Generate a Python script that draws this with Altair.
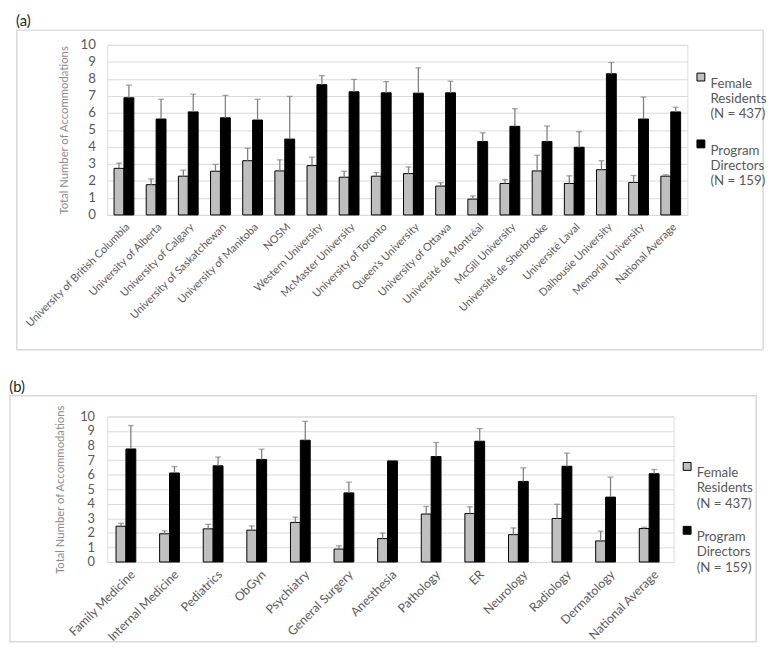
import altair as alt
import pandas as pd

SERIES = ["Female Residents (N = 437)", "Program Directors (N = 159)"]
COLORS = ["#bfbfbf", "#000000"]

# Panel (a): universities
uni_names = [
    "University of British Columbia", "University of Alberta", "University of Calgary",
    "University of Saskatchewan", "University of Manitoba", "NOSM", "Western University",
    "McMaster University", "University of Toronto", "Queen's University", "University of Ottawa",
    "Université de Montréal", "McGill University", "Université de Sherbrooke", "Université Laval",
    "Dalhousie University", "Memorial University", "National Average",
]
uni_fr = [2.74, 1.78, 2.28, 2.57, 3.19, 2.59, 2.90, 2.22, 2.28, 2.43, 1.70, 0.93, 1.85, 2.59, 1.85, 2.66, 1.91, 2.28]
uni_fr_top = [3.05, 2.12, 2.63, 2.97, 3.92, 3.24, 3.40, 2.57, 2.49, 2.82, 1.89, 1.12, 2.08, 3.51, 2.30, 3.19, 2.32, 2.36]
uni_pd = [6.89, 5.64, 6.06, 5.71, 5.58, 4.46, 7.66, 7.24, 7.18, 7.16, 7.18, 4.32, 5.21, 4.32, 3.98, 8.30, 5.64, 6.06]
uni_pd_top = [7.63, 6.80, 7.10, 7.03, 6.80, 6.97, 8.19, 7.97, 7.84, 8.65, 7.86, 4.83, 6.25, 5.23, 4.90, 8.96, 6.93, 6.33]

# Panel (b): specialties
spec_names = [
    "Family Medicine", "Internal Medicine", "Pediatrics", "ObGyn", "Psychiatry",
    "General Surgery", "Anesthesia", "Pathology", "ER", "Neurology", "Radiology",
    "Dermatology", "National Average",
]
spec_fr = [2.46, 1.94, 2.28, 2.19, 2.72, 0.89, 1.61, 3.30, 3.33, 1.88, 2.99, 1.45, 2.30]
spec_fr_top = [2.66, 2.14, 2.59, 2.48, 3.08, 1.12, 1.99, 3.82, 3.79, 2.34, 3.97, 2.12, 2.39]
spec_pd = [7.77, 6.12, 6.61, 7.05, 8.37, 4.75, 6.95, 7.25, 8.30, 5.54, 6.58, 4.46, 6.07]
spec_pd_top = [9.38, 6.56, 7.21, 7.75, 9.67, 5.49, None, 8.21, 9.17, 6.47, 7.48, 5.83, 6.36]

FONT = "Lato"


def make_df(names, fr, fr_top, pdv, pd_top):
    rows = []
    for i, n in enumerate(names):
        rows.append({"cat": n, "series": SERIES[0], "value": fr[i], "top": fr_top[i]})
        rows.append({"cat": n, "series": SERIES[1], "value": pdv[i], "top": pd_top[i]})
    return pd.DataFrame(rows)


LABEL_EXPR = ("datum.label == '" + SERIES[0] + "' ? ['Female', 'Residents', '(N = 437)']"
              " : ['Program', 'Directors', '(N = 159)']")


def panel(names, df, title, w, h, pad_in, pad_out, xfs, yfs, frame, legend_y, row_pad,
          ylab_pad, ytitle_pad):
    x = alt.X("cat:N", sort=names, title=None,
              scale=alt.Scale(paddingInner=pad_in, paddingOuter=pad_out),
              axis=alt.Axis(labelAngle=-45, labelColor="#595959", labelFontSize=xfs,
                            ticks=False, domainColor="#d9d9d9", labelPadding=6,
                            labelLimit=300, labelFont=FONT))
    xo = alt.XOffset("series:N", sort=SERIES, scale=alt.Scale(paddingInner=0))
    y = alt.Y("value:Q", scale=alt.Scale(domain=[0, 10], nice=False),
              axis=alt.Axis(values=list(range(11)), tickCount=11, labelOverlap=False,
                            gridColor="#d9d9d9", domain=False,
                            ticks=False, labelColor="#595959", labelFontSize=yfs,
                            labelPadding=ylab_pad, labelFont=FONT,
                            title="Total Number of Accommodations", titleColor="#8c8c8c",
                            titleFontSize=11.5, titleFontWeight="normal",
                            titlePadding=ytitle_pad, titleFont=FONT))
    base = alt.Chart(df)
    bars = base.mark_bar(stroke="#000000", strokeWidth=1).encode(
        x=x, xOffset=xo, y=y,
        color=alt.Color("series:N", sort=SERIES,
                        scale=alt.Scale(domain=SERIES, range=COLORS),
                        legend=alt.Legend(title=None, orient="none", legendX=w + 7,
                                          legendY=legend_y, symbolType="square",
                                          symbolSize=64, symbolStrokeColor="#000000",
                                          symbolStrokeWidth=1, labelFontSize=13.5,
                                          labelColor="#595959", labelFont=FONT,
                                          labelExpr=LABEL_EXPR, rowPadding=row_pad,
                                          labelBaseline="top", labelOffset=3,
                                          labelLimit=0)),
    )
    errdf = base.transform_filter("isValid(datum.top)")
    rules = errdf.mark_rule(color="#7f7f7f", strokeWidth=1.3).encode(
        x=x, xOffset=xo, y="value:Q", y2="top:Q")
    caps = errdf.mark_tick(color="#7f7f7f", thickness=1.3, size=6).encode(
        x=x, xOffset=xo, y="top:Q")
    box = alt.Chart(pd.DataFrame({"k": [0]})).mark_rect(
        fillOpacity=0, stroke="#d9d9d9", strokeWidth=1.5).encode(
        x=alt.value(frame[0]), x2=alt.value(frame[1]),
        y=alt.value(frame[2]), y2=alt.value(frame[3]))
    return alt.layer(box, bars, rules, caps).properties(
        width=w, height=h,
        title=alt.TitleParams(title, anchor="start", fontSize=15, fontWeight="normal",
                              color="#262626", offset=0, font=FONT),
    )


df_a = make_df(uni_names, uni_fr, uni_fr_top, uni_pd, uni_pd_top)
df_b = make_df(spec_names, spec_fr, spec_fr_top, spec_pd, spec_pd_top)

pa = panel(uni_names, df_a, "(a)", 590, 173, 0.385, 0.21, 11, 13.5,
           (-92, 667, -15, 310), 26, 16, 12, 11)
pb = panel(spec_names, df_b, "(b)", 576, 148, 0.413, 0.2, 12.5, 13,
           (-99, 660, -21, 229), 44, 13, 13, 14)

chart = alt.vconcat(pa, pb, spacing=28).resolve_scale(color="independent").resolve_legend(
    color="independent").properties(padding=0).configure_view(strokeWidth=0).configure(
    font=FONT)

chart.save("out.html", embed_options={"renderer": "svg", "actions": False})
